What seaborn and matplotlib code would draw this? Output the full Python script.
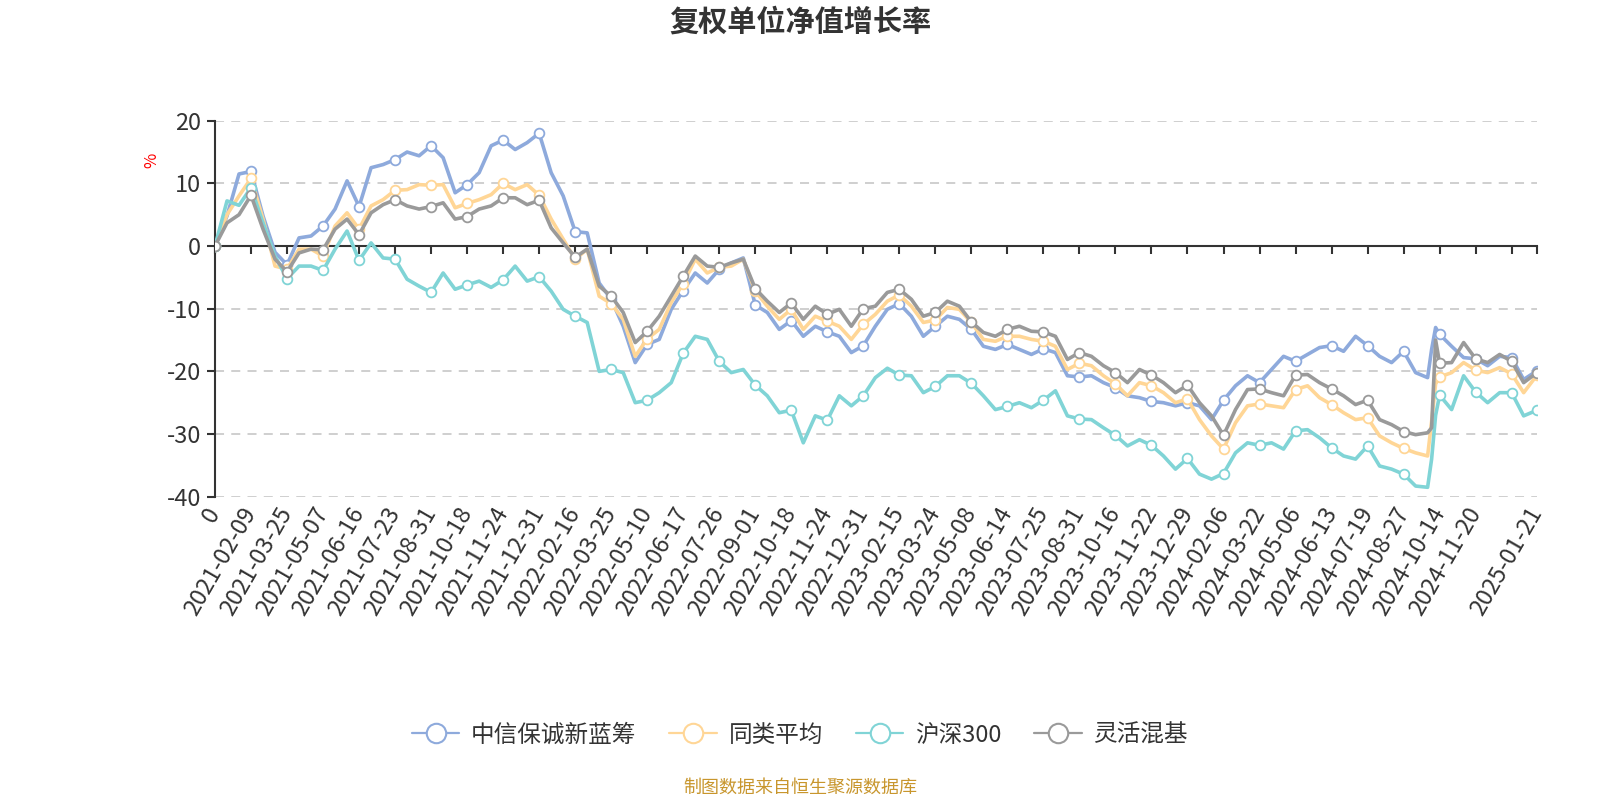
import matplotlib
matplotlib.use("Agg")
import matplotlib.pyplot as plt
from matplotlib.lines import Line2D
import seaborn as sns
import pandas as pd

# ---------------- data ----------------
title = "复权单位净值增长率"
series_names = ["中信保诚新蓝筹", "同类平均", "沪深300", "灵活混基"]
series_colors = ["#8eaadc", "#ffd696", "#80d4d6", "#9a9a9a"]

# trading-day index of each sampled point
day_index = list(range(0, 910, 9)) + [912, 915] + list(range(918, 982, 9)) + [991]

fund_values = [
    0, 4.8, 11.5, 11.9, 4.8, -1.0, -3.0, 1.3, 1.6, 3.2, 5.9, 10.4, 6.3, 12.5, 13.0, 13.8, 15.0, 14.4,
    16.0, 14.1, 8.5, 9.8, 11.7, 16.0, 16.9, 15.4, 16.5, 18.0, 11.7, 8.0, 2.3, 2.1, -5.9, -8.5, -12.8, -18.6, -15.7,
    -14.9, -10.1, -7.1, -4.3, -5.9, -3.7, -2.7, -1.9, -9.4, -10.6, -13.3, -11.9, -14.4, -12.8, -13.7, -14.4, -17.0, -15.9,
    -12.8, -10.1, -9.2, -11.2, -14.4, -12.8, -11.2, -11.7, -13.3, -16.0, -16.5, -15.7, -16.5, -17.3, -16.4, -17.0, -20.7, -20.9,
    -20.7, -21.8, -22.6, -23.9, -24.2, -24.8, -25.0, -25.5, -25.0, -25.5, -27.7, -24.6, -22.3, -20.7, -21.8, -19.7, -17.6, -18.4, -17.3,
    -16.2, -15.9, -16.8, -14.4, -15.9, -17.6, -18.6, -16.8, -20.2, -21.0, -16.5, -13.0, -14.1, -16.0, -17.8, -18.0, -19.1, -17.6, -17.8, -21.3, -19.9,
]
peer_avg_values = [
    0, 5.0, 8.0, 10.8, 4.3, -3.2, -3.7, -0.5, -0.5, -1.6, 3.2, 5.3, 2.7, 6.4, 7.4, 8.9, 9.0, 9.8,
    9.7, 9.8, 6.1, 6.8, 7.4, 8.2, 10.0, 9.0, 9.8, 8.1, 4.3, 1.1, -2.1, -0.5, -8.0, -9.2, -11.7, -17.6, -14.8,
    -13.3, -9.0, -6.0, -2.1, -4.3, -3.4, -3.2, -2.1, -7.2, -9.6, -11.7, -10.1, -13.3, -11.2, -12.0, -12.8, -14.9, -12.5,
    -10.9, -8.8, -7.8, -9.6, -12.2, -11.8, -9.8, -10.1, -12.2, -14.9, -15.2, -14.4, -14.4, -14.9, -15.2, -16.0, -19.7, -18.7,
    -19.1, -20.7, -22.0, -23.9, -21.8, -22.3, -23.4, -25.0, -24.4, -27.7, -30.3, -32.4, -28.2, -25.5, -25.2, -25.5, -25.8, -22.9, -22.3,
    -24.2, -25.3, -26.6, -27.7, -27.4, -30.3, -31.4, -32.3, -33.0, -33.5, -28.0, -22.0, -20.9, -20.2, -18.6, -19.8, -20.2, -19.4, -20.4, -23.4, -20.6,
]
hs300_values = [
    0, 7.2, 6.5, 9.3, 3.7, -1.6, -5.2, -3.2, -3.2, -3.9, -0.5, 2.4, -2.3, 0.5, -1.9, -2.1, -5.3, -6.4,
    -7.4, -4.3, -6.9, -6.2, -5.6, -6.6, -5.4, -3.2, -5.6, -4.9, -7.2, -10.1, -11.2, -12.2, -20.0, -19.7, -20.2, -25.0, -24.6,
    -23.4, -21.8, -17.1, -14.4, -14.9, -18.4, -20.2, -19.7, -22.2, -23.9, -26.6, -26.2, -31.4, -27.1, -27.8, -23.9, -25.5, -23.9,
    -21.0, -19.5, -20.6, -20.7, -23.4, -22.4, -20.7, -20.7, -21.9, -23.9, -26.1, -25.6, -25.0, -25.8, -24.6, -23.1, -27.1, -27.6,
    -27.7, -29.0, -30.2, -31.9, -30.9, -31.8, -33.5, -35.6, -33.9, -36.4, -37.2, -36.3, -33.0, -31.4, -31.8, -31.4, -32.4, -29.5, -29.3,
    -30.6, -32.2, -33.5, -34.0, -31.9, -35.1, -35.6, -36.4, -38.3, -38.5, -34.0, -27.0, -23.8, -26.1, -20.7, -23.3, -25.0, -23.4, -23.4, -27.1, -26.2,
]
flexible_values = [
    0, 3.7, 5.0, 8.1, 2.7, -2.1, -4.1, -1.1, -0.5, -0.6, 2.7, 4.3, 1.8, 5.3, 6.6, 7.4, 6.4, 5.9,
    6.3, 6.9, 4.3, 4.7, 5.9, 6.4, 7.7, 7.7, 6.6, 7.3, 2.9, 0.5, -1.8, -0.5, -6.4, -8.0, -10.6, -15.4, -13.6,
    -11.2, -8.0, -4.8, -1.6, -3.2, -3.4, -2.7, -2.1, -6.8, -8.8, -10.6, -9.1, -11.7, -9.6, -10.9, -10.1, -12.8, -10.0,
    -9.6, -7.4, -6.9, -8.5, -11.2, -10.6, -8.8, -9.6, -12.1, -13.8, -14.4, -13.3, -12.8, -13.6, -13.7, -14.4, -18.1, -17.0,
    -17.6, -19.1, -20.2, -21.8, -19.7, -20.6, -21.8, -23.4, -22.2, -25.0, -27.1, -30.2, -26.1, -22.9, -22.8, -23.4, -23.9, -20.6, -20.5,
    -21.8, -22.8, -23.9, -25.3, -24.6, -27.7, -28.5, -29.6, -30.1, -29.8, -29.0, -15.0, -18.7, -18.6, -15.4, -18.0, -18.6, -17.3, -18.4, -21.8, -20.2,
]

tick_labels = [
    "0", "2021-02-09", "2021-03-25", "2021-05-07", "2021-06-16", "2021-07-23", "2021-08-31",
    "2021-10-18", "2021-11-24", "2021-12-31", "2022-02-16", "2022-03-25", "2022-05-10",
    "2022-06-17", "2022-07-26", "2022-09-01", "2022-10-18", "2022-11-24", "2022-12-31",
    "2023-02-15", "2023-03-24", "2023-05-08", "2023-06-14", "2023-07-25", "2023-08-31",
    "2023-10-16", "2023-11-22", "2023-12-29", "2024-02-06", "2024-03-22", "2024-05-06",
    "2024-06-13", "2024-07-19", "2024-08-27", "2024-10-14", "2024-11-20", "2025-01-21",
]
label_step = 27          # trading days between axis labels
last_day = 991

# ---------------- style ----------------
sns.set_theme(style="white")
plt.rcParams["font.family"] = ["Noto Sans CJK SC", "DejaVu Sans"]
plt.rcParams["axes.unicode_minus"] = False

text_color = "#333333"

fig = plt.figure(figsize=(16, 8), dpi=100)
ax = fig.add_axes([215 / 1600, 1 - 496.7 / 800, (1537 - 215) / 1600, (496.7 - 120.7) / 800])

all_values = [fund_values, peer_avg_values, hs300_values, flexible_values]
df = pd.concat(
    [pd.DataFrame({"day": day_index, "value": v, "series": n}) for n, v in zip(series_names, all_values)],
    ignore_index=True,
)

mark_pos = [i for i, d in enumerate(day_index) if d % label_step == 0 or d == last_day]

for z, (name, color) in enumerate(zip(series_names, series_colors)):
    sns.lineplot(
        data=df[df["series"] == name], x="day", y="value", ax=ax,
        color=color, linewidth=2.6, marker="o", markevery=mark_pos,
        markersize=7, markerfacecolor="white", markeredgecolor=color,
        markeredgewidth=1.3, legend=False, zorder=3 + z,
    )

ax.set_xlim(0, last_day)
ax.set_ylim(-40, 20)
ax.set_xlabel("")

# y axis
ytick_vals = list(range(-40, 21, 10))
ax.set_yticks(ytick_vals)
ax.yaxis.grid(True, linestyle=(0, (5, 4)), color="#cccccc", linewidth=1.3)
ax.xaxis.grid(False)
for val, gl in zip(ytick_vals, ax.get_ygridlines()):
    if val == 0:
        gl.set_visible(False)
for s in ["top", "right", "bottom"]:
    ax.spines[s].set_visible(False)
ax.spines["left"].set_color(text_color)
ax.spines["left"].set_linewidth(1.5)
ax.tick_params(axis="y", left=True, length=6, width=1.5, color=text_color,
               labelsize=17, labelcolor=text_color, pad=4)

# x labels at the bottom
label_pos = [label_step * i for i in range(len(tick_labels) - 1)] + [last_day]
ax.set_xticks(label_pos)
ax.set_xticklabels(tick_labels, rotation=60, ha="right", va="center",
                   rotation_mode="anchor", fontsize=17, color=text_color)
ax.tick_params(axis="x", bottom=True, length=0, pad=9)

# axis line at zero with its ticks
zero_loc = (0 - (-40)) / (20 - (-40))
sec = ax.secondary_xaxis(zero_loc)
sec.set_alignment("bottom")
sec.set_zorder(2.5)
tick_all = [label_step * i for i in range(len(tick_labels))] + [last_day]
sec.set_xticks(tick_all)
sec.set_xticklabels([""] * len(tick_all))
sec.tick_params(axis="x", direction="out", length=6, width=1.5, color=text_color)
sec.spines["bottom"].set_color(text_color)
sec.spines["bottom"].set_linewidth(1.5)

# unit label
ax.set_ylabel("%", color="red", fontsize=12, rotation=90)
ax.yaxis.set_label_coords((160 - 215) / 1322, (496.7 - 160) / 376)

# title
fig.text(0.5, 1 - 22 / 800, title, ha="center", va="center",
         fontsize=21, fontweight="bold", color=text_color)

# legend
handles = [Line2D([], [], color=c, lw=1.6, marker="o", markersize=14,
                  markerfacecolor="white", markeredgecolor=c, markeredgewidth=1.5)
           for c in series_colors]
leg = fig.legend(handles, series_names, loc="center", bbox_to_anchor=(0.5, 1 - 735 / 800),
                 ncol=4, frameon=False, fontsize=17, handlelength=2.0,
                 handletextpad=0.5, columnspacing=1.4)
for t in leg.get_texts():
    t.set_color(text_color)

# source note
fig.text(0.5, 1 - 788 / 800, "制图数据来自恒生聚源数据库", ha="center", va="center",
         fontsize=13, color="#c8962d")

fig.savefig("out.png", dpi=100)
